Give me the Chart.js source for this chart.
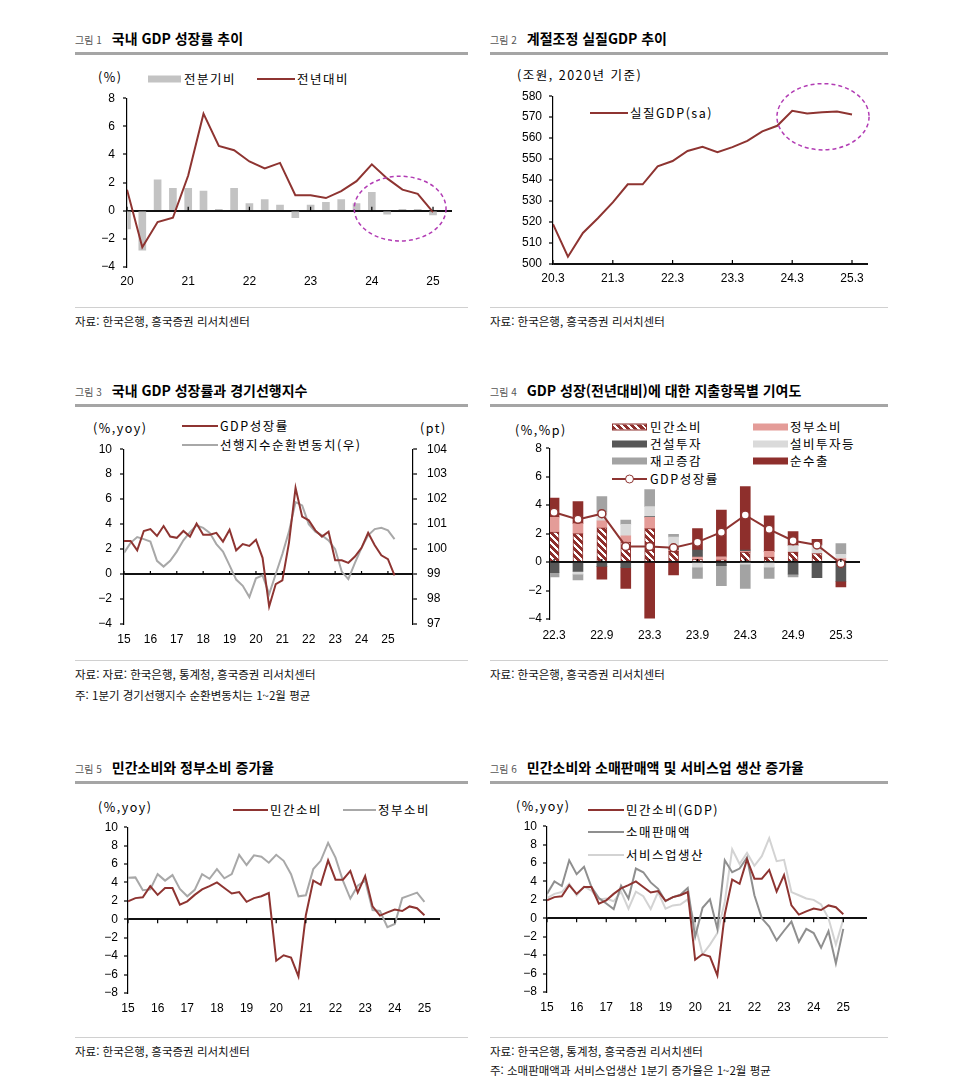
<!DOCTYPE html>
<html lang="ko">
<head>
<meta charset="utf-8">
<title>국내 GDP 성장률</title>
<script src="https://cdn.jsdelivr.net/npm/chart.js"></script>
<style>
  body { margin: 0; width: 963px; height: 1083px; position: relative; overflow: hidden; background: #fff;
         font-family: "Noto Sans CJK KR", "Noto Sans", sans-serif; color: #000; }
  .t { position: absolute; white-space: nowrap; line-height: 1; transform: translateY(-50%); }
  .ttl { font-size: 14px; font-weight: 700; }
  .ttl small { font-size: 10px; font-weight: 400; color: #555; margin-right: 10px; }
  .src { font-size: 11.5px; color: #111; }
  .lg { font-size: 12.5px; letter-spacing: 1.5px; }
  .rule { position: absolute; height: 3px; background: #a5a5a5; }
  .rule2 { position: absolute; height: 1px; background: #d0d0d0; }
  .sw { position: absolute; transform: translateY(-50%); }
  canvas { position: absolute; }
</style>
</head>
<body>

<!-- 제목 -->
<div class="t ttl" style="left:75px;top:38px"><small>그림 1</small>국내 GDP 성장률 추이</div>
<div class="rule" style="left:75px;top:52px;width:393px"></div>
<div class="t ttl" style="left:490px;top:38px"><small>그림 2</small>계절조정 실질GDP 추이</div>
<div class="rule" style="left:490px;top:52px;width:398px"></div>
<div class="t ttl" style="left:75px;top:390px"><small>그림 3</small>국내 GDP 성장률과 경기선행지수</div>
<div class="rule" style="left:75px;top:404px;width:393px"></div>
<div class="t ttl" style="left:490px;top:390px"><small>그림 4</small>GDP 성장(전년대비)에 대한 지출항목별 기여도</div>
<div class="rule" style="left:490px;top:404px;width:398px"></div>
<div class="t ttl" style="left:75px;top:767px"><small>그림 5</small>민간소비와 정부소비 증가율</div>
<div class="rule" style="left:75px;top:781px;width:393px"></div>
<div class="t ttl" style="left:490px;top:767px"><small>그림 6</small>민간소비와 소매판매액 및 서비스업 생산 증가율</div>
<div class="rule" style="left:490px;top:781px;width:398px"></div>

<!-- 출처 -->
<div class="rule2" style="left:75px;top:307px;width:393px"></div>
<div class="t src" style="left:75px;top:322px">자료: 한국은행, 흥국증권 리서치센터</div>
<div class="rule2" style="left:490px;top:307px;width:398px"></div>
<div class="t src" style="left:490px;top:322px">자료: 한국은행, 흥국증권 리서치센터</div>
<div class="rule2" style="left:75px;top:660px;width:393px"></div>
<div class="t src" style="left:75px;top:675px">자료: 자료: 한국은행, 통계청, 흥국증권 리서치센터</div>
<div class="t src" style="left:75px;top:696px">주: 1분기 경기선행지수 순환변동치는 1~2월 평균</div>
<div class="rule2" style="left:490px;top:660px;width:398px"></div>
<div class="t src" style="left:490px;top:675px">자료: 한국은행, 흥국증권 리서치센터</div>
<div class="rule2" style="left:75px;top:1037px;width:393px"></div>
<div class="t src" style="left:75px;top:1052px">자료: 한국은행, 흥국증권 리서치센터</div>
<div class="rule2" style="left:490px;top:1037px;width:398px"></div>
<div class="t src" style="left:490px;top:1052px">자료: 한국은행, 통계청, 흥국증권 리서치센터</div>
<div class="t src" style="left:490px;top:1071px">주: 소매판매액과 서비스업생산 1분기 증가율은 1~2월 평균</div>

<!-- 범례 1 -->
<div class="t lg" style="left:98px;top:77px">(%)</div>
<div class="sw" style="left:148px;top:79px;width:33px;height:7px;background:#c3c3c3"></div>
<div class="t lg" style="left:184px;top:79px">전분기비</div>
<div class="sw" style="left:257px;top:79px;width:38px;height:2px;background:#8e3431"></div>
<div class="t lg" style="left:297px;top:79px">전년대비</div>

<!-- 범례 2 -->
<div class="t lg" style="left:517px;top:75px">(조원, 2020년 기준)</div>
<div class="sw" style="left:590px;top:113px;width:38px;height:2px;background:#8e3431"></div>
<div class="t lg" style="left:630px;top:113px">실질GDP(sa)</div>

<!-- 범례 3 -->
<div class="t lg" style="left:93px;top:428px">(%,yoy)</div>
<div class="sw" style="left:182px;top:426px;width:36px;height:2px;background:#8e3431"></div>
<div class="t lg" style="left:220px;top:426px">GDP성장률</div>
<div class="sw" style="left:182px;top:445px;width:36px;height:2px;background:#a8a8a8"></div>
<div class="t lg" style="left:220px;top:445px">선행지수순환변동치(우)</div>
<div class="t lg" style="left:420px;top:428px">(pt)</div>

<!-- 범례 4 -->
<div class="t lg" style="left:515px;top:430px">(%,%p)</div>
<div class="sw" style="left:612px;top:427px;width:33px;height:5px;border:1px solid #8e2f2c;background:repeating-linear-gradient(45deg,#8e2f2c 0 3px,#fff 3px 5px)"></div>
<div class="t lg" style="left:650px;top:427px">민간소비</div>
<div class="sw" style="left:753px;top:427px;width:35px;height:7px;background:#e49c98"></div>
<div class="t lg" style="left:790px;top:427px">정부소비</div>
<div class="sw" style="left:612px;top:444px;width:35px;height:7px;background:#575757"></div>
<div class="t lg" style="left:650px;top:444px">건설투자</div>
<div class="sw" style="left:753px;top:444px;width:35px;height:7px;background:#dadada"></div>
<div class="t lg" style="left:790px;top:444px">설비투자등</div>
<div class="sw" style="left:612px;top:461px;width:35px;height:7px;background:#a3a3a3"></div>
<div class="t lg" style="left:650px;top:461px">재고증감</div>
<div class="sw" style="left:753px;top:461px;width:35px;height:7px;background:#8e2f2c"></div>
<div class="t lg" style="left:790px;top:461px">순수출</div>
<div class="sw" style="left:612px;top:479px;width:35px;height:2px;background:#8e3431"></div>
<div class="sw" style="left:625px;top:479px;width:7px;height:7px;border:1.5px solid #8e3431;border-radius:50%;background:#fff"></div>
<div class="t lg" style="left:650px;top:479px">GDP성장률</div>

<!-- 범례 5 -->
<div class="t lg" style="left:98px;top:807px">(%,yoy)</div>
<div class="sw" style="left:233px;top:810px;width:35px;height:2px;background:#8e3431"></div>
<div class="t lg" style="left:270px;top:810px">민간소비</div>
<div class="sw" style="left:343px;top:810px;width:33px;height:2px;background:#a8a8a8"></div>
<div class="t lg" style="left:378px;top:810px">정부소비</div>

<!-- 범례 6 -->
<div class="t lg" style="left:516px;top:806px">(%,yoy)</div>
<div class="sw" style="left:588px;top:810px;width:36px;height:2px;background:#8e3431"></div>
<div class="t lg" style="left:626px;top:810px">민간소비(GDP)</div>
<div class="sw" style="left:588px;top:832px;width:36px;height:2px;background:#8f8f8f"></div>
<div class="t lg" style="left:626px;top:832px">소매판매액</div>
<div class="sw" style="left:588px;top:855px;width:36px;height:2px;background:#d3d3d3"></div>
<div class="t lg" style="left:626px;top:855px">서비스업생산</div>

<script>
// 그림 1: 국내 GDP 성장률 (20.1Q ~ 25.1Q)
const fig1Years = ['20', '21', '22', '23', '24', '25'];
const fig1Qoq = [-1.3, -2.8, 2.2, 1.6, 1.6, 1.4, 0.1, 1.6, 0.5, 0.8, 0.4, -0.5, 0.4, 0.6, 0.8, 0.5, 1.3, -0.25, 0.1, 0.1, -0.3];
const fig1Yoy = [1.5, -2.6, -0.8, -0.5, 2.5, 6.9, 4.6, 4.3, 3.5, 3.0, 3.4, 1.1, 1.1, 0.9, 1.4, 2.1, 3.3, 2.3, 1.5, 1.2, -0.1];

// 그림 2: 계절조정 실질GDP (조원)
const fig2Ticks = ['20.3', '21.3', '22.3', '23.3', '24.3', '25.3'];
const fig2Real = [519.0, 503.5, 514.8, 521.8, 529.4, 538.0, 538.0, 546.6, 549.1, 553.9, 555.9, 553.3,
  555.7, 558.7, 563.2, 565.9, 573.0, 571.8, 572.4, 572.7, 571.3];

// 그림 3: GDP 성장률(좌) / 선행지수 순환변동치(우), 14.4Q ~ 25.1Q
const yearTicks = ['15', '16', '17', '18', '19', '20', '21', '22', '23', '24', '25'];
const fig3Gdp = [2.65, 2.65, 1.9, 3.45, 3.6, 3.05, 3.85, 3.0, 2.9, 3.45, 3.0, 4.05, 3.15, 3.15, 3.3, 2.6,
  3.55, 1.9, 2.4, 2.25, 2.75, 1.3, -2.6, -0.8, -0.5, 2.5, 6.9, 4.6, 4.3, 3.5, 3.0, 3.4, 1.1, 1.1, 0.9, 1.4,
  2.1, 3.3, 2.3, 1.5, 1.2, -0.1];
const fig3Cli = [99.85, 100.25, 100.48, 100.4, 100.3, 99.53, 99.3, 99.53, 99.9, 100.35, 100.68, 100.95,
  100.85, 100.65, 100.2, 99.9, 99.35, 98.78, 98.53, 98.08, 98.83, 98.95, 98.2, 99.0, 99.8, 100.7, 101.88,
  101.75, 101.0, 100.7, 100.55, 100.35, 100.0, 99.1, 98.8, 99.45, 100.05, 100.55, 100.8, 100.85, 100.75, 100.4];

// 그림 4: 지출항목별 기여도 (%p), 22.3 ~ 25.3
const fig4Ticks = ['22.3', '22.9', '23.3', '23.9', '24.3', '24.9', '25.3'];
const fig4Private = [2.1, 2.0, 2.4, 1.4, 2.35, 0.75, 0.2, 0.15, 0.7, 0.35, 0.7, 0.6, 0.1];
const fig4Gov = [1.05, 0.7, 0.5, 0.45, 0.8, 0.1, 0.15, 0.2, 0.05, 0.4, 0.0, 0.0, 0.15];
const fig4Constr = [-0.75, -0.65, -0.3, -0.4, 0.05, 0.15, 0.5, -0.25, 0.1, 0.0, -0.85, -1.1, -1.35];
const fig4Equip = [0.0, -0.2, 0.6, 0.8, 0.7, 0.75, -0.35, 0.0, -0.15, -0.35, 0.45, 0.6, 0.3];
const fig4Inven = [-0.3, -0.4, 1.1, 0.3, 1.2, 0.2, -0.8, -1.4, -1.7, -0.8, -0.2, 0.0, 0.75];
const fig4NetEx = [1.35, 1.55, -0.9, -1.45, -3.95, -0.9, 1.5, 3.3, 4.45, 2.5, 1.0, 0.4, -0.4];
const fig4Gdp = [3.5, 3.0, 3.4, 1.1, 1.1, 1.0, 1.4, 2.1, 3.3, 2.3, 1.5, 1.2, -0.1];

// 그림 5, 6: 15.1Q ~ 25.1Q (%, yoy)
const privCons = [1.95, 2.3, 2.4, 3.6, 2.65, 3.4, 3.4, 1.6, 1.95, 2.65, 3.25, 3.6, 4.0, 3.4, 2.8, 2.95,
  1.9, 2.3, 2.5, 2.85, -4.5, -3.9, -4.15, -6.2, 0.45, 4.2, 3.75, 6.4, 4.3, 4.3, 5.25, 2.9, 4.7, 1.4, 0.4,
  0.75, 1.05, 0.9, 1.4, 1.2, 0.45];
const govCons = [4.5, 4.55, 3.15, 3.25, 4.9, 4.2, 4.8, 3.3, 2.5, 3.2, 4.9, 4.4, 5.45, 4.45, 4.9, 7.0,
  5.9, 6.95, 6.8, 6.15, 7.0, 6.35, 4.9, 2.5, 2.6, 5.45, 6.35, 8.3, 6.7, 4.2, 2.25, 3.65, 4.2, 1.0, 0.9,
  -0.85, -0.5, 2.3, 2.6, 2.9, 1.9];
const retailSales = [2.65, 4.0, 3.5, 6.3, 4.8, 5.6, 3.4, 2.2, 1.6, 1.0, 3.55, 2.15, 5.4, 5.0, 3.9, 3.2,
  1.85, 2.3, 2.55, 3.3, -2.0, 1.15, 2.05, -1.15, 6.3, 5.0, 5.4, 6.6, 2.5, 0.0, -0.9, -2.4, -1.35, -0.35,
  -2.55, -1.15, -1.6, -3.2, -1.4, -4.9, -1.15];
const serviceProd = [2.2, 2.65, 2.85, 3.75, 2.5, 3.45, 3.0, 2.05, 2.15, 1.85, 2.9, 1.05, 2.9, 2.4, 1.0,
  2.85, 1.05, 1.4, 1.5, 2.05, -0.7, -3.9, -2.85, -1.6, 1.8, 7.5, 5.9, 7.1, 5.7, 6.75, 8.7, 6.2, 6.35,
  2.85, 2.5, 2.15, 2.0, 1.5, 0.0, -2.85, -0.1];

const RED = '#8e3431';
const LINE_GRAY = '#a8a8a8';
const BAR_GRAY = '#c3c3c3';
const PINK = '#e49c98';
const DARK_GRAY = '#575757';
const LIGHT_GRAY = '#dadada';
const MID_GRAY = '#a3a3a3';
const DARK_RED = '#8e2f2c';
const RETAIL_GRAY = '#8f8f8f';
const SERVICE_GRAY = '#d3d3d3';

Chart.defaults.font.family = '"Liberation Sans", Arial, sans-serif';
Chart.defaults.font.size = 12;
Chart.defaults.color = '#000';
Chart.defaults.animation = false;
Chart.defaults.events = [];
Chart.defaults.plugins.legend.display = false;
Chart.defaults.plugins.tooltip.enabled = false;
Chart.defaults.elements.point.radius = 0;
Chart.defaults.elements.line.borderWidth = 2;

const pts = arr => arr.map((v, i) => ({ x: i, y: v }));
const minus = v => (v < 0 ? '\u2212' + Math.abs(v) : String(v));

// 축 위의 작은 눈금
const axisTicks = {
  id: 'axisTicks',
  afterDatasetsDraw(chart, args, opts) {
    if (opts.at === undefined) return;
    const { x, y } = chart.scales;
    const py = y.getPixelForValue(opts.at);
    const ctx = chart.ctx;
    ctx.save();
    ctx.strokeStyle = '#000';
    ctx.lineWidth = 1.2;
    ctx.beginPath();
    x.ticks.forEach(t => {
      const px = x.getPixelForValue(t.value);
      ctx.moveTo(px, py);
      ctx.lineTo(px, py + opts.len);
    });
    ctx.stroke();
    ctx.restore();
  }
};

// 점선 타원 강조
const ellipseMark = {
  id: 'ellipseMark',
  afterDatasetsDraw(chart, args, opts) {
    if (opts.cx === undefined) return;
    const { x, y } = chart.scales;
    const cx = x.getPixelForValue(opts.cx);
    const cy = y.getPixelForValue(opts.cy);
    const rx = Math.abs(x.getPixelForValue(opts.cx + opts.rx) - cx);
    const ry = Math.abs(y.getPixelForValue(opts.cy + opts.ry) - cy);
    const ctx = chart.ctx;
    ctx.save();
    ctx.strokeStyle = '#b23cb4';
    ctx.lineWidth = 1.5;
    ctx.setLineDash([4, 3]);
    ctx.beginPath();
    ctx.ellipse(cx, cy, rx, ry, 0, 0, Math.PI * 2);
    ctx.stroke();
    ctx.restore();
  }
};

function makeCanvas(area, yW, y2W, xH) {
  const c = document.createElement('canvas');
  c.width = area.r - area.l + yW + y2W + 10;
  c.height = area.b - area.t + 10 + xH;
  c.style.left = (area.l - yW) + 'px';
  c.style.top = (area.t - 10) + 'px';
  document.body.appendChild(c);
  return c;
}

function yScale(min, max, step, base, width, pad, position) {
  return {
    type: 'linear', position: position || 'left', min, max,
    afterFit: s => { s.width = width; },
    border: { color: '#000', width: 1.2 },
    grid: {
      drawOnChartArea: base !== null,
      color: c => (c.tick && c.tick.value === base ? '#111' : 'rgba(0,0,0,0)'),
      lineWidth: 2, tickLength: 4, tickColor: '#000', tickWidth: 1.2
    },
    ticks: { stepSize: step, padding: pad, color: '#000', callback: minus }
  };
}

function xScale(min, max, step, labels, pad) {
  return {
    type: 'linear', min, max, offset: false, stacked: true,
    afterFit: s => { s.height = 26; },
    border: { display: false },
    grid: { display: false, drawTicks: false },
    ticks: {
      stepSize: step, includeBounds: false, autoSkip: false, maxRotation: 0, padding: pad, color: '#000',
      callback: v => {
        const k = Math.round(v / step);
        return Math.abs(k * step - v) < 1e-6 && labels[k] !== undefined ? labels[k] : '';
      }
    }
  };
}

const baseLayout = { padding: { top: 10, right: 10, left: 0, bottom: 0 } };

// 그림 1
new Chart(makeCanvas({ l: 127, t: 93, r: 452, b: 267 }, 50, 0, 26), {
  type: 'line',
  data: {
    datasets: [
      { type: 'line', data: pts(fig1Yoy), borderColor: RED, order: 0 },
      { type: 'bar', data: pts(fig1Qoq), backgroundColor: BAR_GRAY, barThickness: 7, order: 1 }
    ]
  },
  options: {
    responsive: false,
    layout: baseLayout,
    scales: { x: xScale(0, 21.24, 4, fig1Years, 7), y: yScale(-4, 8, 2, 0, 50, 8) },
    plugins: { axisTicks: { at: 0, len: -4 }, ellipseMark: { cx: 17.85, cy: 0.15, rx: 3.0, ry: 2.3 } }
  },
  plugins: [axisTicks, ellipseMark]
});

// 그림 2
new Chart(makeCanvas({ l: 553, t: 92, r: 868, b: 264 }, 50, 0, 26), {
  type: 'line',
  data: { datasets: [{ data: pts(fig2Real), borderColor: RED }] },
  options: {
    responsive: false,
    layout: baseLayout,
    scales: { x: xScale(0, 21.07, 4, fig2Ticks, 7), y: yScale(500, 580, 10, 500, 50, 7) },
    plugins: { axisTicks: { at: 500, len: -4 }, ellipseMark: { cx: 18.06, cy: 570.2, rx: 3.08, ry: 15.8 } }
  },
  plugins: [axisTicks, ellipseMark]
});

// 그림 3
new Chart(makeCanvas({ l: 124, t: 442, r: 413, b: 624 }, 50, 45, 26), {
  type: 'line',
  data: {
    datasets: [
      { data: pts(fig3Gdp), borderColor: RED, yAxisID: 'y', order: 0 },
      { data: pts(fig3Cli), borderColor: LINE_GRAY, yAxisID: 'y2', order: 1 }
    ]
  },
  options: {
    responsive: false,
    layout: baseLayout,
    scales: {
      x: xScale(0, 43.8, 4, yearTicks, 8),
      y: yScale(-4, 10, 2, 0, 50, 8),
      y2: yScale(97, 104, 1, null, 45, 10, 'right')
    },
    plugins: { axisTicks: { at: 0, len: -3 } }
  },
  plugins: [axisTicks]
});

// 그림 4
const c4 = makeCanvas({ l: 550, t: 447, r: 860, b: 619 }, 50, 0, 26);
function makeHatch(ctx) {
  const tile = document.createElement('canvas');
  tile.width = 7; tile.height = 7;
  const g = tile.getContext('2d');
  g.fillStyle = DARK_RED;
  g.fillRect(0, 0, 7, 7);
  g.fillStyle = '#fff';
  for (let yy = 0; yy < 7; yy++) {
    for (let xx = 0; xx < 7; xx++) {
      if ((((xx - yy) % 7) + 7) % 7 < 3) g.fillRect(xx, yy, 1, 1);
    }
  }
  return ctx.createPattern(tile, 'repeat');
}
const hatchFill = makeHatch(c4.getContext('2d'));
const contribSet = (data, color, extra) =>
  Object.assign({ type: 'bar', data: pts(data), backgroundColor: color, barThickness: 10, order: 1 }, extra || {});

new Chart(c4, {
  type: 'line',
  data: {
    datasets: [
      { type: 'line', data: pts(fig4Gdp), borderColor: RED, stack: 'gdp', order: 0,
        pointRadius: 4, pointBackgroundColor: '#fff', pointBorderColor: RED, pointBorderWidth: 1.5 },
      contribSet(fig4Private, hatchFill, { borderColor: DARK_RED, borderWidth: 1 }),
      contribSet(fig4Gov, PINK),
      contribSet(fig4Constr, DARK_GRAY),
      contribSet(fig4Equip, LIGHT_GRAY),
      contribSet(fig4Inven, MID_GRAY),
      contribSet(fig4NetEx, DARK_RED)
    ]
  },
  options: {
    responsive: false,
    layout: baseLayout,
    scales: {
      x: xScale(-0.17, 12.8, 2, fig4Ticks, 9),
      y: Object.assign(yScale(-4, 8, 2, 0, 50, 4), { stacked: true })
    },
    plugins: { axisTicks: { at: 0, len: -3 } }
  },
  plugins: [axisTicks]
});

// 그림 5
new Chart(makeCanvas({ l: 128, t: 824, r: 440, b: 993 }, 50, 0, 26), {
  type: 'line',
  data: {
    datasets: [
      { data: pts(privCons), borderColor: RED, order: 0 },
      { data: pts(govCons), borderColor: LINE_GRAY, order: 1 }
    ]
  },
  options: {
    responsive: false,
    layout: baseLayout,
    scales: { x: xScale(0, 42.1, 4, yearTicks, 8), y: yScale(-8, 10, 2, 0, 50, 6) },
    plugins: { axisTicks: { at: 0, len: 4 } }
  },
  plugins: [axisTicks]
});

// 그림 6
new Chart(makeCanvas({ l: 547, t: 823, r: 867, b: 992 }, 50, 0, 26), {
  type: 'line',
  data: {
    datasets: [
      { data: pts(privCons), borderColor: RED, order: 0 },
      { data: pts(retailSales), borderColor: RETAIL_GRAY, order: 1 },
      { data: pts(serviceProd), borderColor: SERVICE_GRAY, order: 2 }
    ]
  },
  options: {
    responsive: false,
    layout: baseLayout,
    scales: { x: xScale(0, 43.2, 4, yearTicks, 8), y: yScale(-8, 10, 2, 0, 50, 6) },
    plugins: { axisTicks: { at: 0, len: 4 } }
  },
  plugins: [axisTicks]
});
</script>
</body>
</html>
